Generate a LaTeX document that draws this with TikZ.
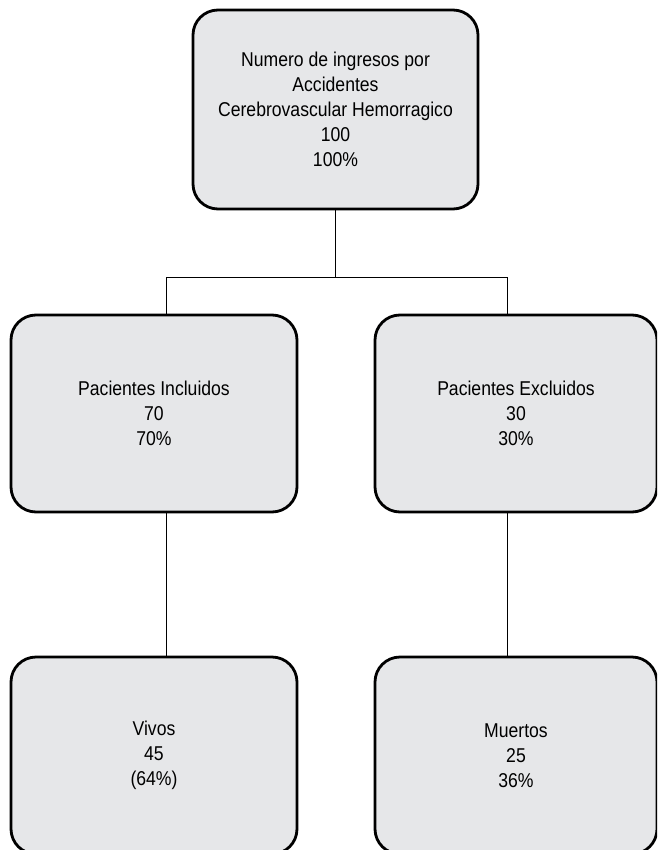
\documentclass[tikz,border=0pt]{standalone}
\usepackage{fontspec}
\setmainfont{Liberation Sans}[FakeStretch=0.88]
\definecolor{boxfill}{HTML}{E6E7E9}
\begin{document}
\begin{tikzpicture}[x=1pt,y=-1pt,
  box/.style={draw=black, line width=2.8pt, fill=boxfill, rounded corners=25pt,
    inner sep=0pt, align=center, font=\fontsize{20}{25}\selectfont},
  link/.style={draw=black, line width=1pt}]
\useasboundingbox (0,0) rectangle (657,850);
\clip (0,0) rectangle (657,850);
\fill[white] (0,0) rectangle (657,850);
\node[box, minimum width=285pt, minimum height=199pt] (top) at (335.5,109.5)
  {Numero de ingresos por\\Accidentes\\Cerebrovascular Hemorragico\\100\\100\%};
\node[box, minimum width=286pt, minimum height=197pt] (inc) at (154,413.5)
  {Pacientes Incluidos\\70\\70\%};
\node[box, minimum width=282pt, minimum height=197pt] (exc) at (516,413.5)
  {Pacientes Excluidos\\30\\30\%};
\node[box, minimum width=286pt, minimum height=197pt] (viv) at (154,755.5)
  {Vivos\\45\\(64\%)};
\node[box, minimum width=282pt, minimum height=197pt] (mue) at (516,755.5)
  {Muertos\\25\\36\%};
\coordinate (bl) at (166,277);
\coordinate (br) at (507,277);
\draw[link] (top.south) -- (top.south |- bl);
\draw[link] (bl) -- (br);
\draw[link] (bl) -- (bl |- inc.north);
\draw[link] (br) -- (br |- exc.north);
\draw[link] (bl |- inc.south) -- (bl |- viv.north);
\draw[link] (br |- exc.south) -- (br |- mue.north);
\end{tikzpicture}
\end{document}
